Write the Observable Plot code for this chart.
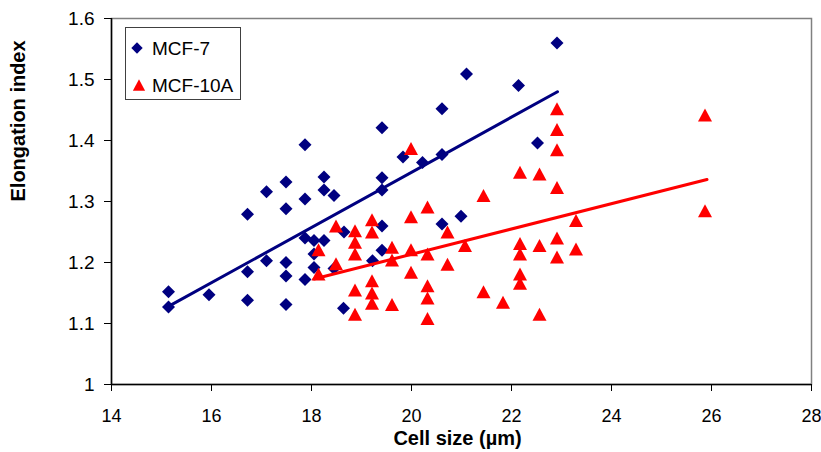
<!DOCTYPE html>
<html>
<head>
<meta charset="utf-8">
<script src="https://cdn.jsdelivr.net/npm/d3@7"></script>
<script src="https://cdn.jsdelivr.net/npm/@observablehq/plot@0.6"></script>
<style>
  html, body { margin: 0; padding: 0; background: white; }
</style>
</head>
<body>
<div id="chart"></div>
<script>
// ---- Data ----
const seriesNames = ["MCF-7", "MCF-10A"];

const mcf7X = [15.14,15.14,15.95,16.72,16.72,16.72,17.10,17.10,17.49,17.49,17.49,17.49,17.49,17.87,17.87,17.87,17.87,18.05,18.05,18.05,18.25,18.25,18.25,18.45,18.45,18.65,18.64,19.22,19.41,19.41,19.41,19.41,19.41,19.83,20.22,20.61,20.61,20.61,20.99,21.10,22.14,22.52,22.91];
const mcf7Y = [1.152,1.127,1.147,1.279,1.185,1.138,1.316,1.203,1.332,1.288,1.200,1.178,1.131,1.393,1.304,1.240,1.172,1.236,1.214,1.192,1.340,1.319,1.236,1.310,1.190,1.250,1.125,1.203,1.421,1.339,1.319,1.260,1.220,1.373,1.364,1.377,1.452,1.263,1.276,1.509,1.490,1.396,1.560];

const mcf10aX = [18.14,18.14,18.49,18.49,18.87,18.87,18.87,18.87,18.87,19.21,19.21,19.21,19.21,19.21,19.61,19.61,19.61,19.99,19.99,19.99,19.99,20.32,20.32,20.32,20.32,20.32,20.72,20.72,21.07,21.44,21.44,21.83,22.17,22.17,22.17,22.17,22.17,22.56,22.56,22.56,22.91,22.91,22.91,22.91,22.91,22.91,23.29,23.29,25.87,25.87];
const mcf10aY = [1.221,1.181,1.260,1.198,1.252,1.233,1.214,1.155,1.115,1.270,1.250,1.170,1.150,1.133,1.225,1.204,1.131,1.387,1.275,1.221,1.184,1.291,1.214,1.162,1.142,1.108,1.250,1.197,1.228,1.310,1.152,1.135,1.348,1.231,1.214,1.181,1.166,1.345,1.228,1.115,1.452,1.418,1.385,1.323,1.240,1.209,1.269,1.222,1.442,1.285];

// Linear trend lines (endpoints)
const mcf7FitX = [15.14, 22.92];
const mcf7FitY = [1.128, 1.480];
const mcf10aFitX = [18.05, 25.91];
const mcf10aFitY = [1.173, 1.336];

const xTicks = [14, 16, 18, 20, 22, 24, 26, 28];
const yTicks = [1, 1.1, 1.2, 1.3, 1.4, 1.5, 1.6];
const xTitle = "Cell size (µm)";
const yTitle = "Elongation index";

// ---- Tables ----
const mcf7 = mcf7X.map((x, i) => ({x, y: mcf7Y[i]}));
const mcf10a = mcf10aX.map((x, i) => ({x, y: mcf10aY[i]}));
const fit7 = mcf7FitX.map((x, i) => ({x, y: mcf7FitY[i]}));
const fit10a = mcf10aFitX.map((x, i) => ({x, y: mcf10aFitY[i]}));

// ---- Excel-like marker symbols ----
const diamondSym = {
  draw(ctx, size) {
    const k = Math.sqrt(size / 78.54);
    const h = 6.5 * k;
    ctx.moveTo(0, -h); ctx.lineTo(h, 0); ctx.lineTo(0, h); ctx.lineTo(-h, 0); ctx.closePath();
  }
};
const triSym = {
  draw(ctx, size) {
    const k = Math.sqrt(size / 78.54);
    const w = 7 * k, h = 6.5 * k;
    ctx.moveTo(0, -h); ctx.lineTo(w, h); ctx.lineTo(-w, h); ctx.closePath();
  }
};

const navy = "#000080", red = "#FF0000";
const font = "'Liberation Sans', Arial, sans-serif";

const chart = Plot.plot({
  width: 821,
  height: 452,
  marginLeft: 111,
  marginRight: 10,
  marginTop: 18,
  marginBottom: 68,
  style: {fontFamily: font, fontSize: "17px", background: "white", color: "black"},
  x: {domain: [14, 28]},
  y: {domain: [1, 1.6]},
  marks: [
    Plot.frame({stroke: "#808080", strokeWidth: 1.5}),
    Plot.ruleX([14], {stroke: "black", strokeWidth: 1.5}),
    Plot.ruleY([1], {stroke: "black", strokeWidth: 1.5}),
    Plot.axisX({ticks: xTicks, tickSize: 7, tickPadding: 18, tickFormat: d => String(d), label: null, fontSize: 18}),
    Plot.axisY({ticks: yTicks, tickSize: 7, tickPadding: 10, tickFormat: d => String(+d.toFixed(1)), label: null, fontSize: 19}),
    Plot.dot(mcf7, {x: "x", y: "y", symbol: diamondSym, r: 5, fill: navy, stroke: "none"}),
    Plot.dot(mcf10a, {x: "x", y: "y", symbol: triSym, r: 5, fill: red, stroke: "none"}),
    Plot.line(fit7, {x: "x", y: "y", stroke: navy, strokeWidth: 3}),
    Plot.line(fit10a, {x: "x", y: "y", stroke: red, strokeWidth: 3}),
    Plot.text([xTitle], {text: d => d, frameAnchor: "bottom", dy: 54, dx: -4, fontWeight: "bold", fontSize: 20, lineAnchor: "middle"}),
    Plot.text([yTitle], {text: d => d, frameAnchor: "left", dx: -93, rotate: -90, fontWeight: "bold", fontSize: 20, lineAnchor: "middle"})
  ]
});

// ---- Legend (inside plot area, top-left) ----
const svg = d3.select(chart);
const lg = svg.append("g").attr("font-family", font).attr("font-size", 19).attr("text-anchor", "start");
lg.append("rect").attr("x", 125.5).attr("y", 27.5).attr("width", 115).attr("height", 72)
  .attr("fill", "white").attr("stroke", "#404040").attr("stroke-width", 1);
const legendItems = [
  {name: seriesNames[0], sym: diamondSym, color: navy, cx: 137, cy: 48, ty: 55},
  {name: seriesNames[1], sym: triSym, color: red, cx: 139, cy: 85, ty: 92}
];
legendItems.forEach(it => {
  lg.append("path").attr("d", d3.symbol(it.sym, 60)()).attr("transform", `translate(${it.cx},${it.cy})`).attr("fill", it.color);
  lg.append("text").attr("x", 152).attr("y", it.ty).attr("fill", "black").attr("text-anchor", "start").text(it.name);
});

document.getElementById("chart").append(chart);
</script>
</body>
</html>
